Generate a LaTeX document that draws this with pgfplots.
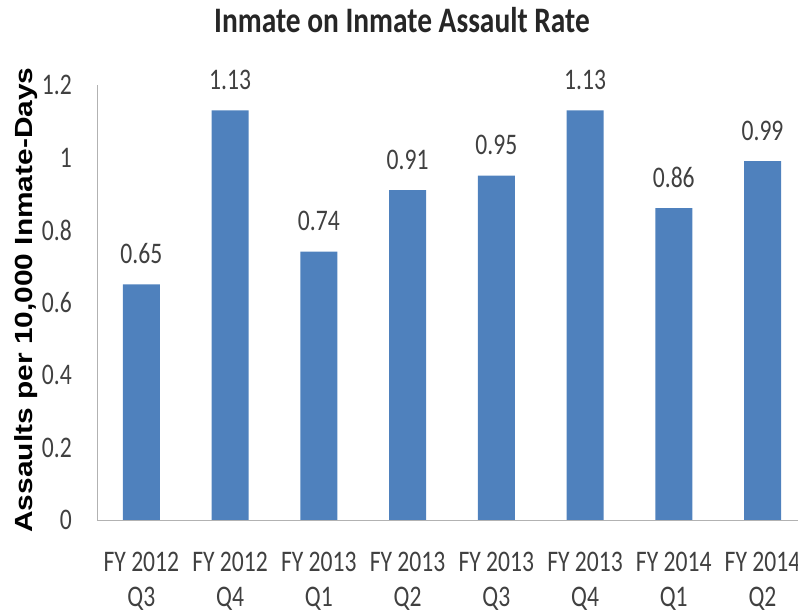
\documentclass[border=0pt]{standalone}
\usepackage{pgfplots}
\pgfplotsset{compat=1.18}
\usepackage{fontspec}
\setmainfont[FakeStretch=0.79]{Carlito}
\newfontfamily\titlefont[FakeStretch=0.82]{Carlito}
\newfontfamily\labfont{Liberation Sans}
\definecolor{barblue}{HTML}{4F81BD}
\definecolor{txt}{HTML}{404040}
\begin{document}
\begin{tikzpicture}[x=1bp,y=1bp]
\useasboundingbox (-97,-93) rectangle (701,520);
\begin{axis}[
  at={(0,0)}, anchor=south west,
  scale only axis, width=701bp, height=435bp,
  xmin=-0.5, xmax=7.4, ymin=0, ymax=1.2,
  ytick={0,0.2,0.4,0.6,0.8,1,1.2},
  xtick={0,1,2,3,4,5,6,7},
  xticklabels={{FY 2012\\Q3},{FY 2012\\Q4},{FY 2013\\Q1},{FY 2013\\Q2},{FY 2013\\Q3},{FY 2013\\Q4},{FY 2014\\Q1},{FY 2014\\Q2}},
  xticklabel style={align=center, font=\fontsize{30}{35}\selectfont, text=txt, inner sep=0pt, anchor=north, yshift=-32bp},
  yticklabel style={font=\fontsize{30}{35}\selectfont, text=txt, inner sep=0pt, anchor=east, xshift=-25bp},
  /pgf/number format/assume math mode=true,
  axis lines*=left,
  axis line style={draw=gray!60, line width=1pt},
  major tick length=0pt,
  ybar, bar width=0.417,
  nodes near coords,
  every node near coord/.append style={font=\fontsize{30}{35}\selectfont, text=txt, inner sep=0pt, anchor=base, yshift=21bp},
  clip=false,
]
\addplot[fill=barblue, draw=none] coordinates {(0,0.65) (1,1.13) (2,0.74) (3,0.91) (4,0.95) (5,1.13) (6,0.86) (7,0.99)};
\end{axis}
\node[rotate=90, inner sep=0pt, font=\labfont\bfseries\fontsize{30}{34}\selectfont, text=black] at (-71,220) {\scalebox{1}[0.83]{Assaults per 10,000 Inmate-Days}};
\node[anchor=base, inner sep=0pt, font=\titlefont\bfseries\fontsize{36}{40}\selectfont, text=black!85] at (305,487) {Inmate on Inmate Assault Rate};
\end{tikzpicture}
\end{document}
